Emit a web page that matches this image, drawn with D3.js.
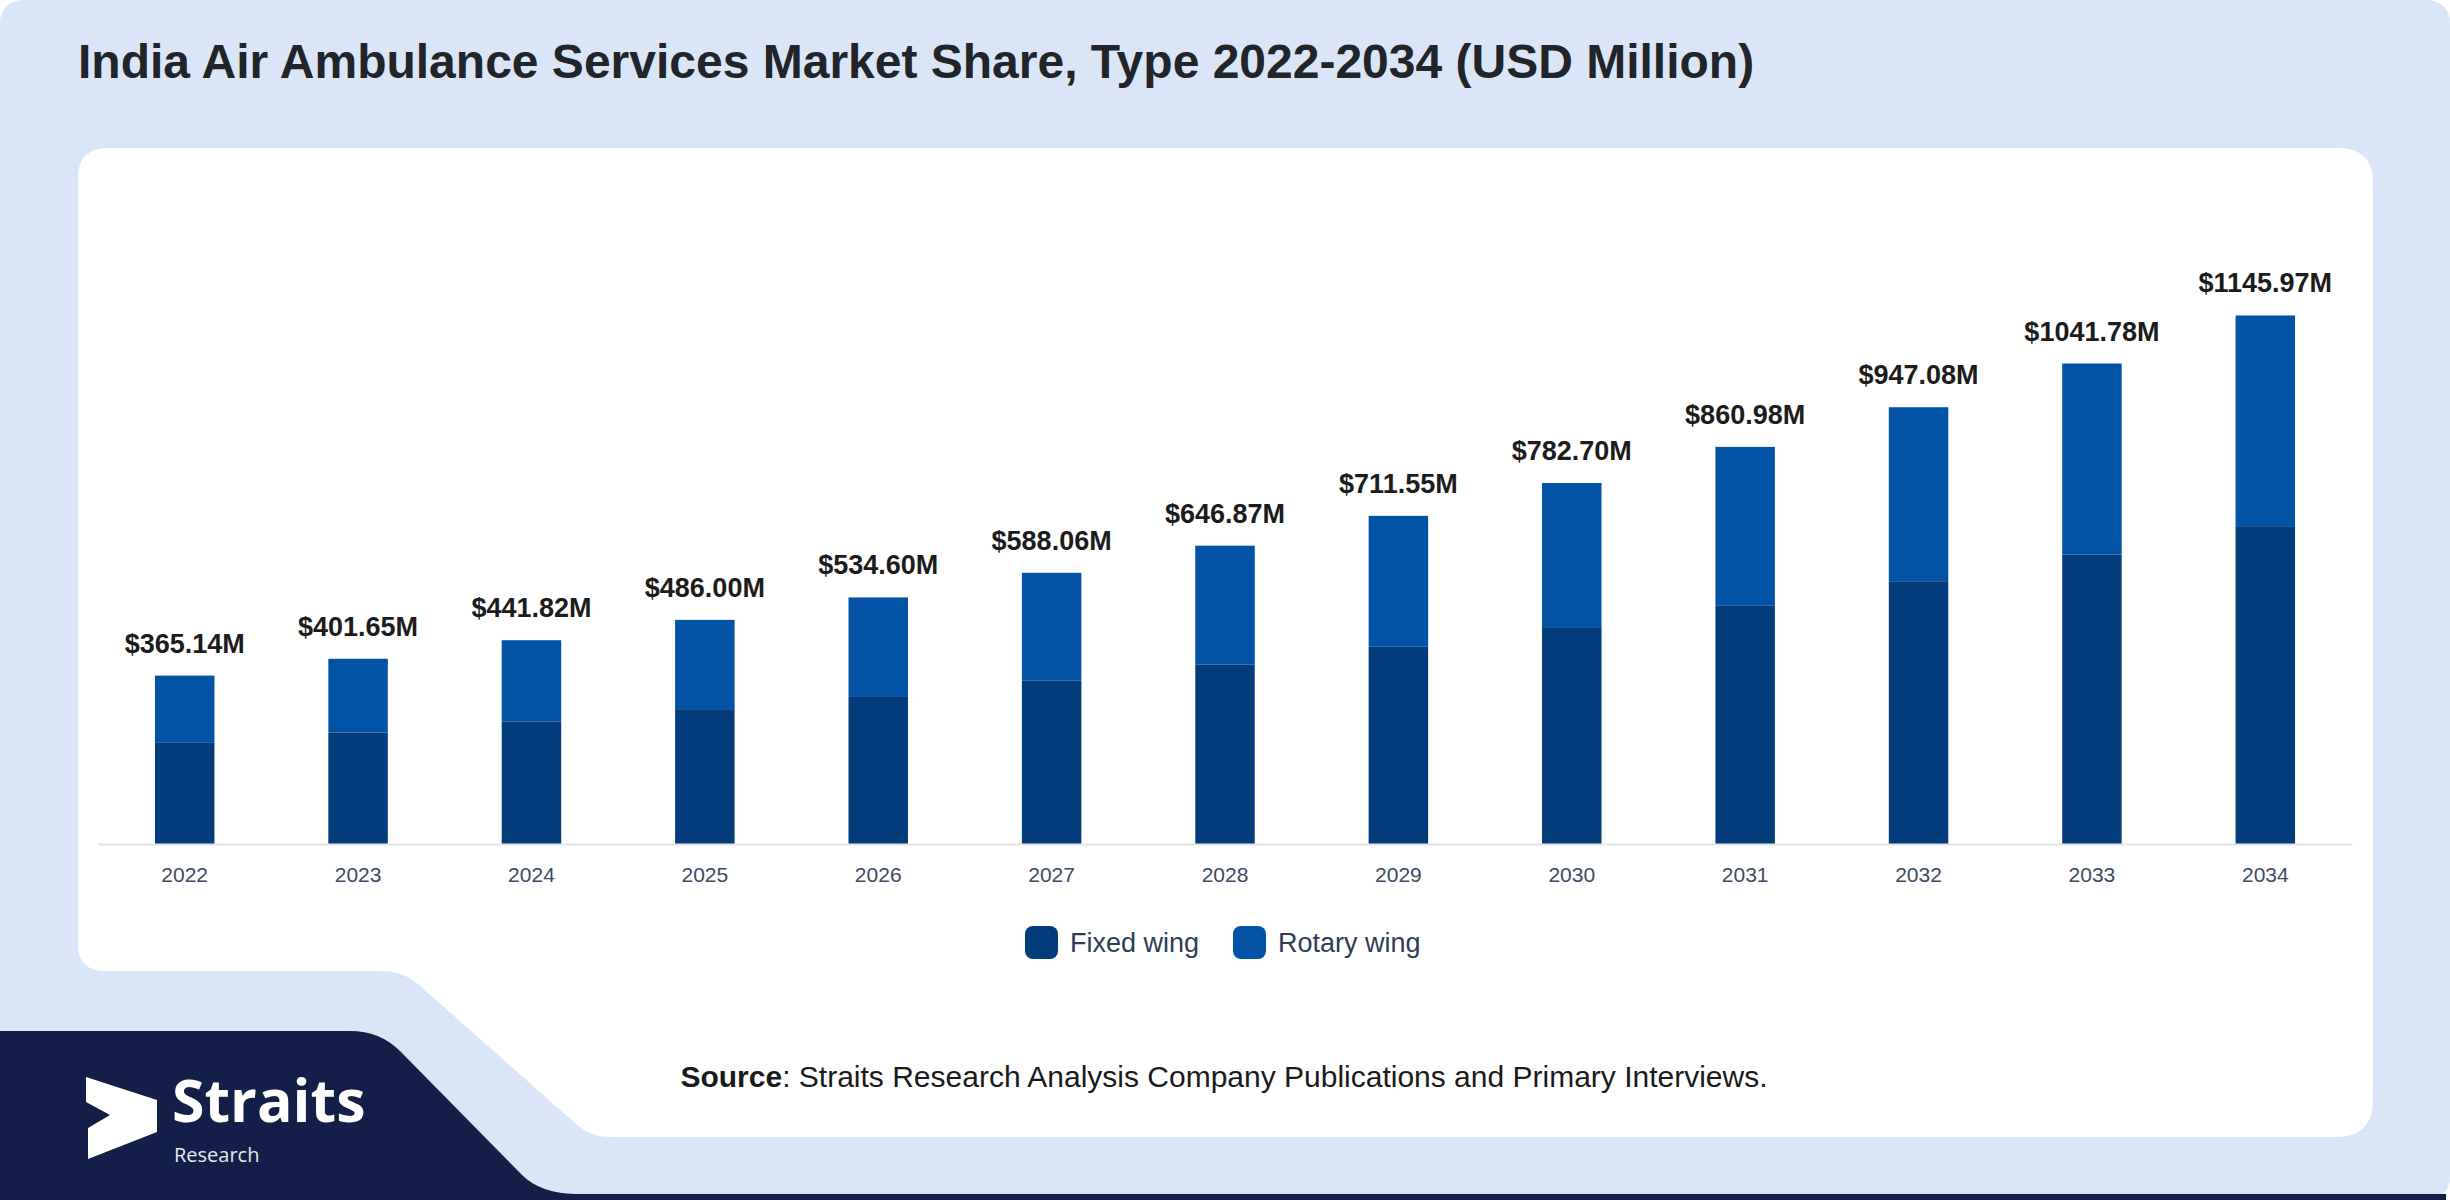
<!DOCTYPE html>
<html>

<head>
    <meta charset="utf-8">
    <title>India Air Ambulance Services Market Share</title>
    <script src="https://d3js.org/d3.v7.min.js"></script>
</head>
<style>
    body {
        margin: 0;
        background-color: white;
    }

    .title {
        font-family: "Liberation Sans", Arial, sans-serif;
        font-weight: bold;
        font-size: 48px;
        fill: #212529;
    }

    .value-label {
        font-family: "Liberation Sans", Arial, sans-serif;
        font-weight: bold;
        font-size: 27px;
        fill: #1c1c1c;
        text-anchor: middle;
    }

    .axis text {
        font-family: "Liberation Sans", Arial, sans-serif;
        font-size: 21px;
        fill: #3d4a66;
    }

    .legend text {
        font-family: "Liberation Sans", Arial, sans-serif;
        font-size: 27px;
        fill: #2f3b58;
    }

    .source {
        font-family: "Liberation Sans", Arial, sans-serif;
        font-size: 30px;
        fill: #1a1a1a;
    }
</style>

<body>
    <svg id="chart"></svg>
    <script>
        // Chart data
        var years = ["2022", "2023", "2024", "2025", "2026", "2027", "2028", "2029", "2030", "2031", "2032", "2033", "2034"];
        var fixedWing = [220.6, 241.5, 265.8, 292.4, 320.6, 354.8, 388.8, 427.6, 470.2, 517.6, 569.8, 627.5, 689.2];
        var rotaryWing = [144.54, 160.15, 176.02, 193.60, 214.00, 233.26, 258.07, 283.95, 312.50, 343.38, 377.28, 414.28, 456.77];
        var totalLabels = ["$365.14M", "$401.65M", "$441.82M", "$486.00M", "$534.60M", "$588.06M", "$646.87M",
            "$711.55M", "$782.70M", "$860.98M", "$947.08M", "$1041.78M", "$1145.97M"];
        var seriesNames = ["Fixed wing", "Rotary wing"];
        var seriesColors = ["#033c7a", "#0253a6"];

        var W = 2450,
            H = 1200;

        var svg = d3.select("#chart")
            .attr("width", W)
            .attr("height", H);

        // Page background with rounded corners
        svg.append("rect")
            .attr("x", 0)
            .attr("y", 0)
            .attr("width", W)
            .attr("height", H)
            .attr("rx", 22)
            .attr("fill", "#dae6f8");

        // White card with the cut-out in the bottom left corner
        var card = d3.path();
        card.moveTo(108, 148);
        card.lineTo(2338, 148);
        card.quadraticCurveTo(2373, 148, 2373, 183);
        card.lineTo(2373, 1100);
        card.quadraticCurveTo(2373, 1137, 2336, 1137);
        card.lineTo(610, 1137);
        card.quadraticCurveTo(590, 1137, 575, 1123);
        card.lineTo(418, 984);
        card.quadraticCurveTo(403, 971, 380, 971);
        card.lineTo(105, 971);
        card.quadraticCurveTo(78, 971, 78, 944);
        card.lineTo(78, 178);
        card.quadraticCurveTo(78, 148, 108, 148);
        card.closePath();
        svg.append("path")
            .attr("d", card.toString())
            .attr("fill", "white");

        // Navy footer block with the logo
        var foot = d3.path();
        foot.moveTo(0, 1031);
        foot.lineTo(350, 1031);
        foot.quadraticCurveTo(380, 1031, 400, 1051);
        foot.lineTo(522, 1175);
        foot.quadraticCurveTo(540, 1193, 575, 1194);
        foot.lineTo(2446, 1194);
        foot.lineTo(2446, 1200);
        foot.lineTo(0, 1200);
        foot.closePath();
        svg.append("path")
            .attr("d", foot.toString())
            .attr("fill", "#131f48");

        svg.append("path")
            .attr("d", "M86,1077 L157,1100 L157,1132 L88,1159 L88,1128 L110,1115 L86,1102 Z")
            .attr("fill", "white");
        svg.append("text")
            .attr("x", 172)
            .attr("y", 1122)
            .style("font-family", "'Open Sans', sans-serif")
            .style("font-weight", "bold")
            .style("font-size", "59px")
            .style("fill", "white")
            .text("Straits");
        svg.append("text")
            .attr("x", 174)
            .attr("y", 1162)
            .style("font-family", "'Open Sans', sans-serif")
            .style("font-size", "20px")
            .style("fill", "#e4e8f0")
            .text("Research");

        // Title
        svg.append("text")
            .attr("class", "title")
            .attr("x", 78)
            .attr("y", 78)
            .text("India Air Ambulance Services Market Share, Type 2022-2034 (USD Million)");

        // Scales
        var x = d3.scaleBand()
            .domain(years)
            .range([98, 2352])
            .paddingInner(0.657)
            .paddingOuter(0.3285);

        var y = d3.scaleLinear()
            .domain([0, 1250])
            .range([844, 267.5]);

        // Stack the two series
        var rows = years.map(function(yr, i) {
            return {
                year: yr,
                "Fixed wing": fixedWing[i],
                "Rotary wing": rotaryWing[i],
                label: totalLabels[i]
            };
        });
        var stacked = d3.stack().keys(seriesNames)(rows);

        svg.append("g")
            .selectAll("g")
            .data(stacked)
            .enter()
            .append("g")
            .attr("fill", function(d, i) {
                return seriesColors[i];
            })
            .selectAll("rect")
            .data(function(d) {
                return d;
            })
            .enter()
            .append("rect")
            .attr("x", function(d) {
                return x(d.data.year);
            })
            .attr("y", function(d) {
                return y(d[1]);
            })
            .attr("width", x.bandwidth())
            .attr("height", function(d) {
                return y(d[0]) - y(d[1]);
            });

        // Total labels above the bars
        svg.append("g")
            .selectAll("text")
            .data(rows)
            .enter()
            .append("text")
            .attr("class", "value-label")
            .attr("x", function(d) {
                return x(d.year) + x.bandwidth() / 2;
            })
            .attr("y", function(d) {
                return y(d["Fixed wing"] + d["Rotary wing"]) - 23;
            })
            .text(function(d) {
                return d.label;
            });

        // X axis
        var xAxis = svg.append("g")
            .attr("class", "axis")
            .attr("transform", "translate(0,844)")
            .call(d3.axisBottom(x).tickSize(0).tickPadding(38));
        xAxis.select(".domain")
            .attr("stroke", "#e3e3e3")
            .attr("stroke-width", 2);
        xAxis.selectAll("text").attr("dy", 0);

        // Legend
        var legendX = [1025, 1233];
        var legend = svg.append("g")
            .attr("class", "legend")
            .selectAll("g")
            .data(seriesNames)
            .enter()
            .append("g")
            .attr("transform", function(d, i) {
                return "translate(" + legendX[i] + ",926)";
            });
        legend.append("rect")
            .attr("width", 33)
            .attr("height", 33)
            .attr("rx", 8)
            .attr("fill", function(d, i) {
                return seriesColors[i];
            });
        legend.append("text")
            .attr("x", 45)
            .attr("y", 26)
            .text(function(d) {
                return d;
            });

        // Source line
        var source = svg.append("text")
            .attr("class", "source")
            .attr("x", 1224)
            .attr("y", 1087)
            .attr("text-anchor", "middle");
        source.append("tspan")
            .style("font-weight", "bold")
            .text("Source");
        source.append("tspan")
            .text(": Straits Research Analysis Company Publications and Primary Interviews.");
    </script>

</body>

</html>
